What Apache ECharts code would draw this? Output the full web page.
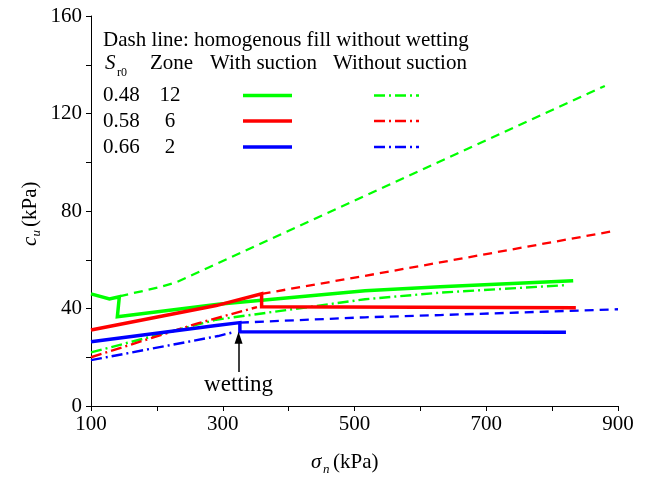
<!DOCTYPE html>
<html>
<head>
<meta charset="utf-8">
<script src="https://cdn.jsdelivr.net/npm/echarts@6/dist/echarts.min.js"></script>
<style>
  html, body { margin: 0; padding: 0; background: #fff; }
  #chart { width: 646px; height: 477px; }
</style>
</head>
<body>
<div id="chart"></div>
<script>
// Undrained shear strength c_u against normal stress sigma_n (kPa)
const GREEN = '#00ff00', RED = '#ff0000', BLUE = '#0000ff';
const SERIF = '"Liberation Serif", "Times New Roman", serif';

// Sr0 = 0.48, zone 12
const greenSuctionSigma = [100, 128, 143, 140, 293, 516, 630, 832];
const greenSuctionCu    = [46.0, 43.9, 44.8, 36.6, 41.7, 47.3, 48.9, 51.4];
const greenNoSuctionSigma = [100, 290, 516, 630, 822];
const greenNoSuctionCu    = [22.0, 35.4, 43.8, 46.5, 49.6];
const greenHomogSigma = [143, 205, 230, 880];
const greenHomogCu    = [45.0, 48.8, 50.8, 131.3];

// Sr0 = 0.58, zone 6
const redSuctionSigma = [100, 290, 359, 359, 836];
const redSuctionCu    = [31.2, 41.2, 46.0, 40.7, 40.3];
const redNoSuctionSigma = [100, 262, 352];
const redNoSuctionCu    = [20.0, 33.9, 40.6];
const redHomogSigma = [359, 516, 630, 894];
const redHomogCu    = [46.0, 53.4, 58.9, 71.8];

// Sr0 = 0.66, zone 2
const blueSuctionSigma = [100, 290, 326, 326, 821];
const blueSuctionCu    = [26.4, 33.0, 34.2, 30.5, 30.3];
const blueNoSuctionSigma = [100, 293, 318];
const blueNoSuctionCu    = [18.8, 28.7, 30.4];
const blueHomogSigma = [326, 516, 630, 900];
const blueHomogCu    = [34.2, 36.4, 37.3, 39.7];

// wetting arrow (sigma, c_u from -> to)
const wettingSigma = 324;
const wettingCu = [14, 28];

// legend rows
const legendSr0 = ['0.48', '0.58', '0.66'];
const legendZone = ['12', '6', '2'];
const legendColors = [GREEN, RED, BLUE];

const xTicks = [100, 300, 500, 700, 900];
const yTicks = [0, 40, 80, 120, 160];

const zip = (xs, ys) => xs.map((x, i) => [x, ys[i]]);

const DASH = [9, 6];
const DASH_DOT = [11, 4, 2, 4];

function line(name, xs, ys, color, width, type, z) {
  return {
    name, type: 'line', data: zip(xs, ys), showSymbol: false, symbol: 'none',
    lineStyle: { color, width, type, cap: 'butt', join: 'miter' },
    silent: true, z: z || 2, animation: false
  };
}

const series = [
  line('g-homog', greenHomogSigma, greenHomogCu, GREEN, 2.3, DASH),
  line('r-homog', redHomogSigma, redHomogCu, RED, 2.3, DASH),
  line('b-homog', blueHomogSigma, blueHomogCu, BLUE, 2.3, DASH),
  line('g-nosuc', greenNoSuctionSigma, greenNoSuctionCu, GREEN, 2.4, DASH_DOT),
  line('r-nosuc', redNoSuctionSigma, redNoSuctionCu, RED, 2.4, DASH_DOT),
  line('b-nosuc', blueNoSuctionSigma, blueNoSuctionCu, BLUE, 2.4, DASH_DOT),
  line('g-suc', greenSuctionSigma, greenSuctionCu, GREEN, 3.5, 'solid', 3),
  line('r-suc', redSuctionSigma, redSuctionCu, RED, 3.5, 'solid', 3),
  line('b-suc', blueSuctionSigma, blueSuctionCu, BLUE, 3.5, 'solid', 3)
];

// arrow marking the wetting step
series[series.length - 1].markLine = {
  silent: true, animation: false,
  symbol: ['none', 'triangle'], symbolSize: [8, 12],
  label: { show: false },
  lineStyle: { color: '#000', width: 1.5, type: 'solid' },
  data: [[{ coord: [wettingSigma, wettingCu[0]] }, { coord: [wettingSigma, wettingCu[1]] }]]
};

const chart = echarts.init(document.getElementById('chart'), null, { renderer: 'canvas' });

const axisCommon = {
  axisLine: { show: true, onZero: false, lineStyle: { color: '#000', width: 1 } },
  axisTick: { show: true, inside: false, length: 5, lineStyle: { color: '#000', width: 1 } },
  splitLine: { show: false },
  axisLabel: { color: '#000', fontFamily: SERIF, fontSize: 21 }
};

function txt(x, y, text, opts) {
  opts = opts || {};
  return {
    type: 'text', silent: true,
    style: {
      x, y, text, fill: '#000',
      font: (opts.italic ? 'italic ' : '') + (opts.size || 21) + 'px ' + SERIF,
      align: opts.align || 'left', verticalAlign: 'middle'
    }
  };
}

const legendGraphics = [];
legendGraphics.push(txt(103, 40, 'Dash line: homogenous fill without wetting'));
legendGraphics.push(txt(105, 63, 'S', { italic: true }));
legendGraphics.push(txt(117, 73, 'r0', { size: 12 }));
legendGraphics.push(txt(150, 63, 'Zone'));
legendGraphics.push(txt(210, 63, 'With suction'));
legendGraphics.push(txt(333, 63, 'Without suction'));
const rowY = [95.5, 121, 147];
legendSr0.forEach((s, i) => {
  legendGraphics.push(txt(103, rowY[i], s));
  legendGraphics.push(txt(170, rowY[i], legendZone[i], { align: 'center' }));
  legendGraphics.push({
    type: 'line', silent: true,
    shape: { x1: 243, y1: rowY[i], x2: 292, y2: rowY[i] },
    style: { stroke: legendColors[i], lineWidth: 3.5 }
  });
  legendGraphics.push({
    type: 'line', silent: true,
    shape: { x1: 374, y1: rowY[i], x2: 419, y2: rowY[i] },
    style: { stroke: legendColors[i], lineWidth: 2.4, lineDash: DASH_DOT }
  });
});

// axis titles with italic symbols and subscripts
const xTitle = [
  txt(311, 462, '\u03c3', { italic: true }),
  txt(323, 470, 'n', { italic: true, size: 13 }),
  txt(333, 462, '(kPa)')
];
const yTitle = {
  type: 'group', x: 30, y: 210, rotation: Math.PI / 2, silent: true,
  children: [
    txt(-36, 0, 'c', { italic: true }),
    txt(-26.5, 7, 'u', { italic: true, size: 13 }),
    txt(-17, 0, '(kPa)')
  ]
};

chart.setOption({
  animation: false,
  backgroundColor: '#fff',
  grid: { left: 91, right: 28, top: 16, bottom: 71, containLabel: false },
  xAxis: Object.assign({}, axisCommon, {
    type: 'value', min: 100, max: 900, interval: 100,
    axisLabel: Object.assign({}, axisCommon.axisLabel, {
      margin: 8,
      formatter: v => (xTicks.indexOf(v) >= 0 ? String(v) : '')
    })
  }),
  yAxis: Object.assign({}, axisCommon, {
    type: 'value', min: 0, max: 160, interval: 20,
    axisLabel: Object.assign({}, axisCommon.axisLabel, {
      margin: 9,
      formatter: v => (yTicks.indexOf(v) >= 0 ? String(v) : '')
    })
  }),
  series,
  graphic: legendGraphics.concat(xTitle, [yTitle])
});

// "wetting" caption under the arrow
const capPos = chart.convertToPixel({ gridIndex: 0 }, [wettingSigma, wettingCu[0]]);
chart.setOption({
  graphic: legendGraphics.concat(xTitle, [yTitle], [
    txt(capPos[0], capPos[1] + 13, 'wetting', { align: 'center', size: 23 })
  ])
});
</script>
</body>
</html>
